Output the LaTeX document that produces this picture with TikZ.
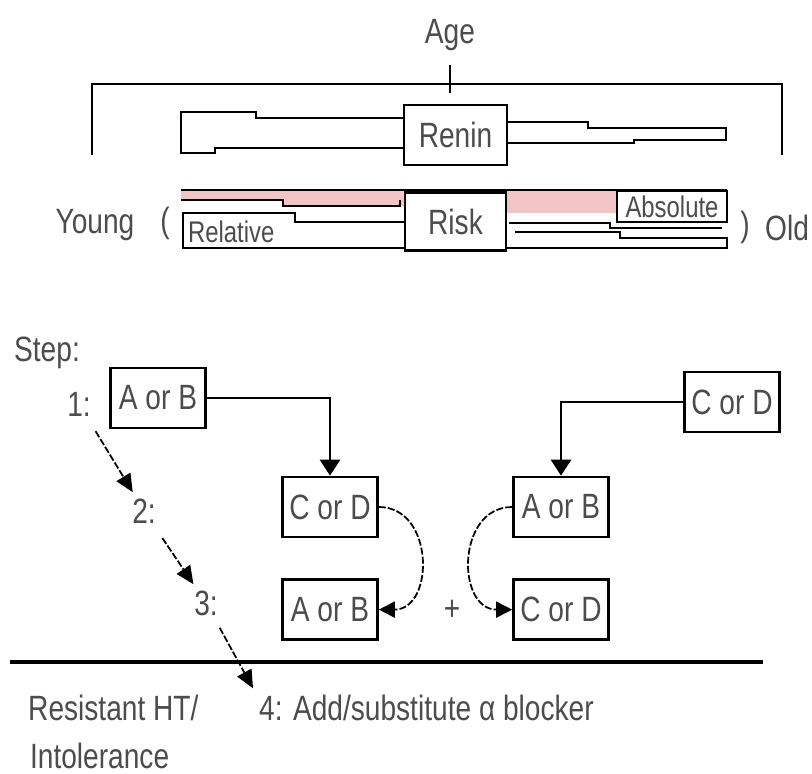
\documentclass[tikz,border=0pt]{standalone}
\usepackage{fontspec}
\setmainfont{Liberation Sans}[FakeStretch=0.8]
\usetikzlibrary{positioning, arrows.meta}
\definecolor{riskpink}{RGB}{242,196,196}

\begin{document}
\begin{tikzpicture}[x=0.02cm, y=-0.02cm, font=\fontsize{20}{24}\selectfont, text=black!70,
  box/.style={rectangle, draw=black, line width=1.5pt, minimum width=1.9cm, minimum height=1.2cm, inner sep=1pt},
  bar/.style={draw=black, line width=1.5pt},
  flow/.style={-{Triangle[length=3.2mm, width=4mm]}, line width=1.5pt},
  swap/.style={-{Triangle[length=3.2mm, width=3.2mm]}, line width=1pt, dash pattern=on 4pt off 1.2pt},
  hop/.style={-{Triangle[length=3.6mm, width=3.2mm]}, line width=1pt, dash pattern=on 4pt off 1.2pt},
  small/.style={font=\fontsize{17}{20}\selectfont}]
  \useasboundingbox (0,0) rectangle (812,774);

  \node (age) at (450,35) {Age};
  \draw[bar] (92,155) -- (92,84) -- (782,84) -- (782,155);
  \draw[bar] (450,65) -- (450,93);

  \node[box, minimum width=2.06cm] (renin) at (455.5,135) {Renin};
  \node[box, minimum width=2.02cm, minimum height=1.16cm, below=0.5cm of renin] (risk) {Risk};

  \draw[bar] (404,118) -- (256,118) -- (256,112) -- (181,112) -- (181,153) -- (215,153) -- (215,148) -- (404,148);
  \draw[bar] (507,122) -- (588,122) -- (588,128) -- (726,128) -- (726,140) -- (634,140) -- (634,143) -- (507,143);

  \fill[riskpink] (181,191) -- (404,191) -- (404,206) -- (283,206) -- (283,200) -- (181,200) -- cycle;
  \fill[riskpink] (507,191) rectangle (617,213);
  \draw[bar] (181,190) -- (727,190);
  \draw[bar] (181,200) -- (283,200) -- (283,206) -- (400,206) -- (400,200);
  \draw[bar] (404,222) -- (295,222) -- (295,213) -- (183,213) -- (183,248) -- (404,248);
  \node[small, anchor=west, inner sep=1pt] (rel) at (186,232) {Relative};
  \node[rectangle, draw=black, line width=1.5pt, minimum width=2.2cm, minimum height=0.62cm, inner sep=0pt, small] (abs) at (672,206.5) {Absolute};
  \draw[black, line width=1pt] (509,223) -- (610,223) -- (610,228) -- (722,228);
  \draw[bar] (515,232) -- (620,232) -- (620,238) -- (727,238) -- (727,248) -- (507,248);

  \node (young) at (95,225) {Young};
  \node (lpar) at (165,223) {(};
  \node (rpar) at (745,227) {)};
  \node[anchor=east, inner sep=1pt] (old) at (811,228) {Old};

  \node[anchor=base] (step) at (47,361) {Step:};
  \node[anchor=base] (s1) at (79,416) {1:};
  \node[anchor=base] (s2) at (144,523) {2:};
  \node[anchor=base] (s3) at (206,615) {3:};
  \node[anchor=base west] (s4) at (253,720) {4: Add/substitute α blocker};
  \node[anchor=base west] (resist) at (22,720) {Resistant HT/};
  \node[anchor=base west, inner sep=1pt] (intol) at (28,768) {Intolerance};

  \node[box] (AB1) at (158,398) {A or B};
  \node[box] (CD1) at (732,402) {C or D};
  \node[box] (CD2) at (330,507) {C or D};
  \node[box] (AB2) at (561,507) {A or B};
  \node[box, below=0.8cm of CD2] (AB3) {A or B};
  \node[box, below=0.8cm of AB2] (CD3) {C or D};
  \node (plus) at (452,610) {+};

  \foreach \from/\to in {AB1/CD2, CD1/AB2}
    \draw[flow] (\from) -| (\to);
  \draw[swap] (CD2.east) to[out=0, in=0, looseness=1.4] (AB3.east);
  \draw[swap] (AB2.west) to[out=180, in=180, looseness=1.4] (CD3.west);

  \draw[line width=2pt] (10,662) -- (763,662);
  \foreach \from/\to in {s1/s2, s2/s3}
    \draw[hop, shorten <=6pt] (\from) -- (\to);
  \draw[hop, shorten <=4pt] (s3) -- (s4.north west);
\end{tikzpicture}
\end{document}
